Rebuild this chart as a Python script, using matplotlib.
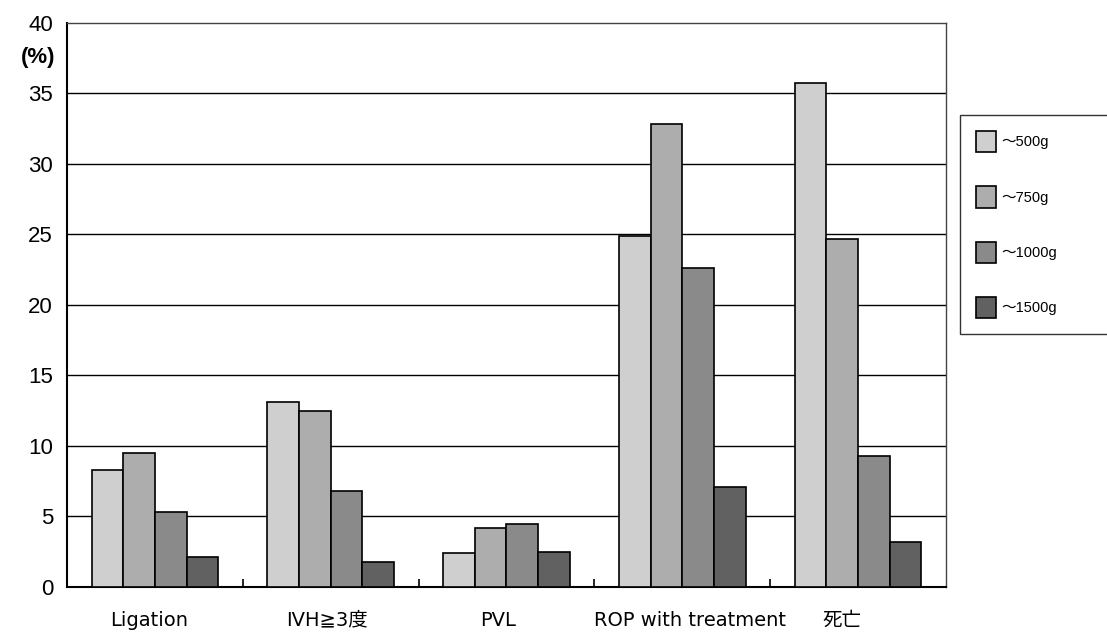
import numpy as np
import matplotlib
matplotlib.use('Agg')
import matplotlib.pyplot as plt
import matplotlib.transforms as mtransforms

categories = ["Ligation", "IVH≧3度", "PVL", "ROP with treatment", "死亡"]
groups = ["～500g", "～750g", "～1000g", "～1500g"]
g500 = [8.3, 13.1, 2.4, 24.9, 35.7]
g750 = [9.5, 12.5, 4.2, 32.8, 24.7]
g1000 = [5.3, 6.8, 4.5, 22.6, 9.3]
g1500 = [2.1, 1.8, 2.5, 7.1, 3.2]
yticks = [0, 5, 10, 15, 20, 25, 30, 35, 40]

colors = ['#cfcfcf', '#adadad', '#8a8a8a', '#616161']  # 網掛けの濃さ

def main():
    fig = plt.figure(figsize=(11.07, 6.4), dpi=100)
    ax = fig.add_axes([0.0605, 0.0828, 0.794, 0.8817])

    x = np.arange(len(categories))
    w = 0.18
    series = [g500, g750, g1000, g1500]
    for i, (vals, lab) in enumerate(zip(series, groups)):
        ax.bar(x + (i - 1.5) * w, vals, w, color=colors[i], edgecolor='black',
               linewidth=1.2, label=lab, zorder=3)

    ax.set_xlim(-0.5, len(categories) - 0.5)
    ax.set_ylim(0, 40)
    ax.set_yticks(yticks)
    for v in yticks[1:-1]:
        ax.axhline(v, color='black', linewidth=1.0, zorder=1)

    # 軸・枠
    ax.spines['left'].set_linewidth(1.5)
    ax.spines['bottom'].set_linewidth(1.5)
    for s in ['top', 'right']:
        ax.spines[s].set_linestyle((0, (1, 1)))
        ax.spines[s].set_color('#444444')
        ax.spines[s].set_linewidth(1.0)

    ax.tick_params(axis='y', length=0, pad=10)
    for t in ax.get_yticklabels():
        t.set_fontfamily('Liberation Sans')
        t.set_fontsize(16)

    ax.set_xticks(x)
    ax.set_xticklabels(categories, family=['DejaVu Sans', 'Noto Sans CJK JP'], fontsize=14)
    ax.tick_params(axis='x', which='major', length=0, pad=17)
    ax.set_xticks(np.arange(0.5, len(categories) - 0.5), minor=True)
    ax.tick_params(axis='x', which='minor', direction='in', length=6, width=1.2)

    shifts = [-6, -4, -8, 8, -16]  # ラベル位置の微調整 (px)
    for t, dx in zip(ax.get_xticklabels(), shifts):
        t.set_transform(t.get_transform() + mtransforms.Affine2D().translate(dx, 0))

    fig.text(55 / 1107, 1 - 57 / 640, "(%)", ha='right', va='center',
             fontsize=16, fontweight='bold', family='Liberation Sans')

    leg = fig.legend(loc='upper left', bbox_to_anchor=(960 / 1107, 1 - 115 / 640, 0.2, 0.0),
                     mode='expand', borderaxespad=0, frameon=True, fancybox=False,
                     prop={'family': ['Liberation Sans', 'Noto Sans CJK JP'], 'size': 10.5},
                     handlelength=1.35, handleheight=1.85, handletextpad=0.4,
                     labelspacing=2.35, borderpad=1.1)
    leg.get_frame().set_edgecolor('black')
    leg.get_frame().set_linewidth(1.0)

    fig.savefig('out.png', dpi=100)

if __name__ == "__main__":
    main()
